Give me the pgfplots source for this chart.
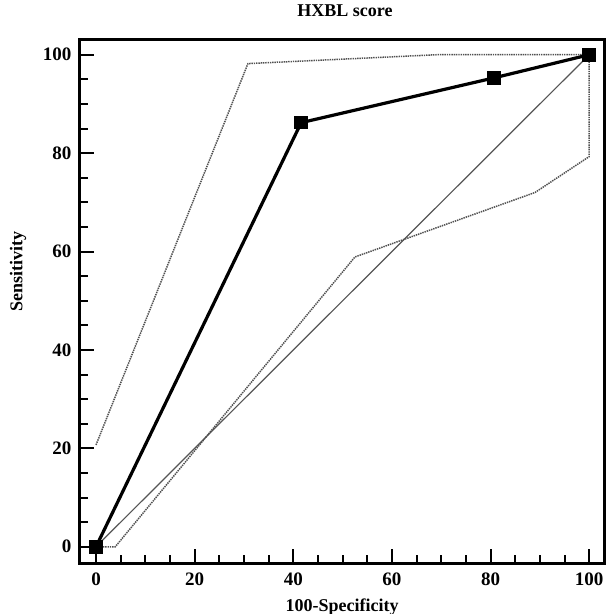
\documentclass[border=0pt]{standalone}
\usepackage{fontspec}
\setmainfont{Liberation Serif}
\usepackage{pgfplots}
\pgfplotsset{compat=1.18}

\definecolor{diaggray}{RGB}{85,85,85}
\definecolor{cigray}{RGB}{80,80,80}

\begin{document}
\begin{tikzpicture}
\begin{axis}[
    name=ax,
    scale only axis,
    width=262pt, height=261.5pt,
    xmin=-3.25, xmax=103.0,
    ymin=-3.3, ymax=103.0,
    xtick={0,20,40,60,80,100},
    ytick={0,20,40,60,80,100},
    minor xtick={5,10,15,25,30,35,45,50,55,65,70,75,85,90,95},
    minor ytick={5,10,15,25,30,35,45,50,55,65,70,75,85,90,95},
    tick align=inside,
    xtick pos=bottom, ytick pos=left,
    major tick length=7pt, minor tick length=4pt,
    every tick/.style={black, line width=1pt},
    axis line style={line width=1.5pt},
    /pgf/number format/assume math mode=true,
    tick label style={font=\fontsize{9.5}{10}\selectfont\bfseries},
    xticklabel style={anchor=base, yshift=-11pt},
    yticklabel style={anchor=east, xshift=-0.8pt},
    title={HXBL score},
    title style={font=\fontsize{9}{10}\selectfont\bfseries,
        at={(axis description cs:0.5,1)}, anchor=base, yshift=5.5pt, xshift=1.5pt},
    xlabel={100-Specificity},
    ylabel={Sensitivity},
    label style={font=\fontsize{9}{10}\selectfont\bfseries},
    xlabel style={at={(axis description cs:0.5,0)}, anchor=base, yshift=-24pt},
    ylabel style={at={(axis description cs:-0.1183,0.558)}, anchor=center},
    clip=false,
]
% reference diagonal
\addplot[diaggray, line width=0.6pt] coordinates {(0,0) (100,100)};
% upper confidence bound
\addplot[cigray, line width=0.75pt, dash pattern=on 0.7pt off 0.45pt] coordinates {
    (0,20.7) (30.8,98.2) (69,100) (100,100)
};
% lower confidence bound
\addplot[cigray, line width=0.75pt, dash pattern=on 0.7pt off 0.45pt] coordinates {
    (0,0) (3.9,0) (52.5,58.9) (89.0,72.0) (100,79.3) (100,100)
};
% ROC curve
\addplot[black, line width=1.6pt, mark=square*, mark size=2.6pt] coordinates {
    (0,0) (41.6,86.2) (80.7,95.3) (100,100)
};
\end{axis}
\pgfresetboundingbox
\path (ax.south west) ++(-40pt,-25.5pt) rectangle ([shift={(0.5pt,20pt)}]ax.north east);
\end{tikzpicture}
\end{document}
